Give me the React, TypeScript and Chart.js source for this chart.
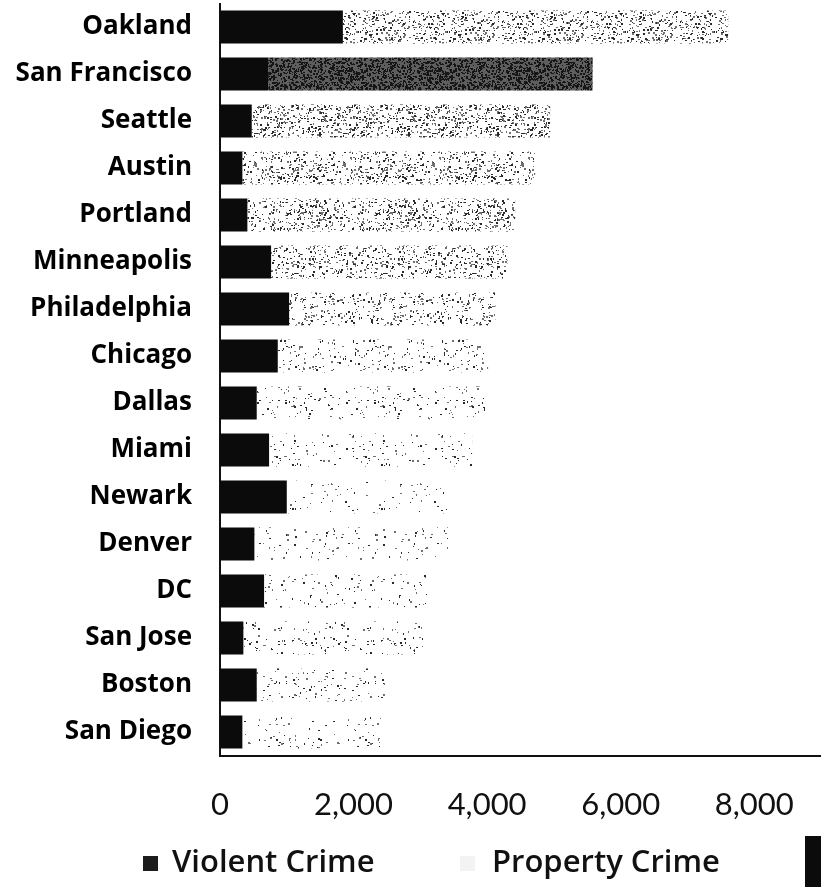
import React, { useEffect, useRef } from "react";
import { Chart, registerables } from "chart.js";

Chart.register(...registerables);

// Crime rates per 100,000 residents
const cities = [
  "Oakland",
  "San Francisco",
  "Seattle",
  "Austin",
  "Portland",
  "Minneapolis",
  "Philadelphia",
  "Chicago",
  "Dallas",
  "Miami",
  "Newark",
  "Denver",
  "DC",
  "San Jose",
  "Boston",
  "San Diego",
];
const violentCrime = [1840, 720, 475, 335, 410, 765, 1035, 865, 550, 735, 1000, 515, 660, 350, 550, 335];
const propertyCrime = [5770, 4860, 4470, 4385, 4010, 3540, 3090, 3150, 3420, 3040, 2520, 2900, 2440, 2690, 1920, 2085];
const seriesNames = ["Violent Crime", "Property Crime"];
const xTickValues = [0, 2000, 4000, 6000, 8000];

// Dot density of the stippled fill used for each property-crime bar
const propertyStipple = [0.2, 0.6, 0.24, 0.2, 0.22, 0.18, 0.14, 0.07, 0.05, 0.05, 0.03, 0.04, 0.045, 0.05, 0.06, 0.035];

const LABEL_FONT = "'Open Sans', 'Noto Sans', sans-serif";
const TICK_FONT = "Lato, 'Open Sans', sans-serif";

function makeStipple(
  ctx: CanvasRenderingContext2D,
  density: number,
  seed: number,
  base: string | null
): CanvasPattern | string {
  const w = 89;
  const h = 61;
  const c = document.createElement("canvas");
  c.width = w;
  c.height = h;
  const g = c.getContext("2d");
  if (!g) return "#cccccc";
  if (base) {
    g.fillStyle = base;
    g.fillRect(0, 0, w, h);
  }
  let s = (seed + 1) * 7919 + 104729;
  const rnd = () => {
    s = (s * 16807) % 2147483647;
    return s / 2147483647;
  };
  const count = Math.round((w * h * density) / 2.2);
  for (let i = 0; i < count; i++) {
    const x = Math.floor(rnd() * w);
    const y = Math.floor(rnd() * h);
    const dw = rnd() < 0.5 ? 1 : 2;
    const dh = rnd() < 0.4 ? 2 : 1;
    g.fillStyle = base ? "#161616" : rnd() < 0.5 ? "#2a2a2a" : "#707070";
    g.fillRect(x, y, dw, dh);
  }
  return ctx.createPattern(c, "repeat") || "#cccccc";
}

export default function App() {
  const canvasRef = useRef<HTMLCanvasElement | null>(null);

  useEffect(() => {
    document.body.style.margin = "0";
    const canvas = canvasRef.current;
    if (!canvas) return;
    const ctx = canvas.getContext("2d");
    if (!ctx) return;

    const propertyFills = propertyStipple.map((d, i) =>
      makeStipple(ctx, d, i, i === 1 ? "#5e5e5e" : null)
    );

    const chart = new Chart(ctx, {
      type: "bar",
      data: {
        labels: cities,
        datasets: [
          {
            label: seriesNames[0],
            data: violentCrime,
            backgroundColor: "#0b0b0b",
            borderWidth: 0,
          },
          {
            label: seriesNames[1],
            data: propertyCrime,
            backgroundColor: propertyFills as any,
            borderWidth: 0,
          },
        ],
      },
      options: {
        indexAxis: "y",
        animation: false,
        responsive: true,
        maintainAspectRatio: false,
        layout: { padding: { top: 3.5, right: 0, bottom: 0, left: 0 } },
        datasets: {
          bar: { categoryPercentage: 0.7, barPercentage: 1 },
        },
        plugins: {
          legend: { display: false },
          tooltip: { enabled: false },
          title: { display: false },
        },
        scales: {
          x: {
            stacked: true,
            min: 0,
            max: 9000,
            grid: { display: false, drawTicks: false },
            border: { display: true, color: "#111111", width: 2 },
            afterBuildTicks: (scale: any) => {
              scale.ticks = xTickValues.map((v) => ({ value: v }));
            },
            afterFit: (scale: any) => {
              scale.height = 131.5;
              scale.paddingLeft = 0;
              scale.paddingRight = 0;
            },
            ticks: {
              padding: 31,
              color: "#111111",
              font: { family: TICK_FONT, size: 31, weight: "normal" },
              maxRotation: 0,
              autoSkip: false,
            },
          },
          y: {
            stacked: true,
            grid: { display: false, drawTicks: false },
            border: { display: true, color: "#111111", width: 2 },
            afterFit: (scale: any) => {
              scale.width = 220;
              scale.paddingTop = 0;
              scale.paddingBottom = 0;
            },
            ticks: {
              padding: 28,
              color: "#000000",
              font: { family: LABEL_FONT, size: 26, weight: "bold" },
              autoSkip: false,
            },
          },
        },
      },
    });

    return () => chart.destroy();
  }, []);

  const legendText: React.CSSProperties = {
    position: "absolute",
    top: 845,
    fontFamily: LABEL_FONT,
    fontWeight: 600,
    fontSize: 31,
    lineHeight: "30px",
    color: "#111111",
    whiteSpace: "nowrap",
  };

  return (
    <div style={{ position: "relative", width: 821, height: 887, background: "#ffffff", overflow: "hidden" }}>
      <canvas ref={canvasRef} />
      <div style={{ position: "absolute", left: 143, top: 856, width: 15, height: 15, background: "#1c1c1c" }} />
      <div style={{ ...legendText, left: 172 }}>{seriesNames[0]}</div>
      <div style={{ position: "absolute", left: 460, top: 856, width: 15, height: 15, background: "#f3f3f3" }} />
      <div style={{ ...legendText, left: 492 }}>{seriesNames[1]}</div>
      <div style={{ position: "absolute", left: 805, top: 836, width: 16, height: 51, background: "#0b0b0b" }} />
    </div>
  );
}
